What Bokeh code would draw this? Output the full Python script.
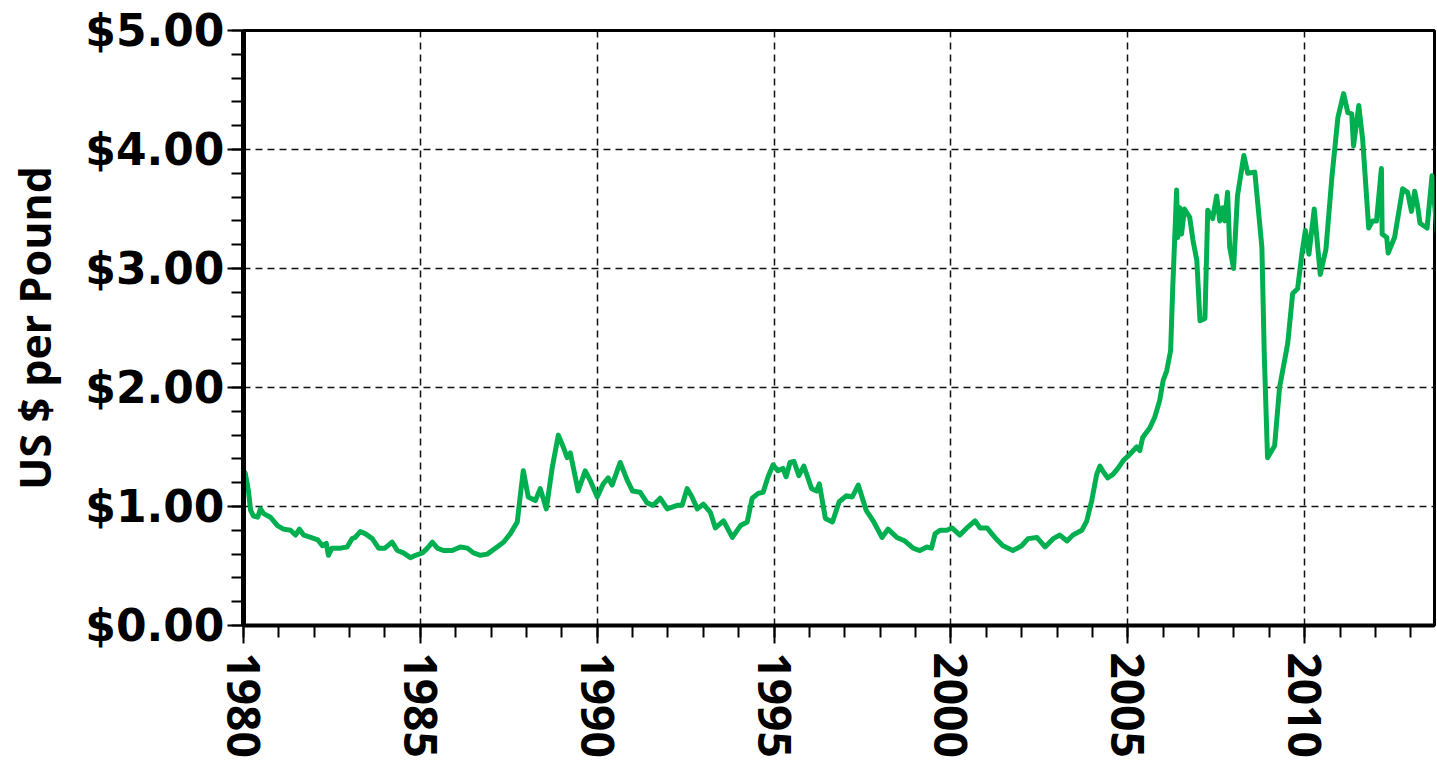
import math
from bokeh.plotting import figure
from bokeh.models import FixedTicker, PrintfTickFormatter, Range1d
from bokeh.embed import file_html
from bokeh.resources import INLINE

# Copper price, US $ per pound
years = [
    1980.00, 1980.05, 1980.14, 1980.20, 1980.28, 1980.40, 1980.48, 1980.57, 1980.76, 1980.96,
    1981.13, 1981.33, 1981.47, 1981.58, 1981.70, 1981.90, 1982.10, 1982.23, 1982.34, 1982.40,
    1982.50, 1982.74, 1982.93, 1983.07, 1983.16, 1983.30, 1983.45, 1983.64, 1983.82, 1984.00,
    1984.20, 1984.35, 1984.52, 1984.72, 1984.86, 1985.06, 1985.20, 1985.34, 1985.48, 1985.65,
    1985.90, 1986.13, 1986.33, 1986.50, 1986.70, 1986.89, 1987.17, 1987.35, 1987.54, 1987.74,
    1987.82, 1987.91, 1988.05, 1988.25, 1988.39, 1988.56, 1988.73, 1988.90, 1989.04, 1989.15,
    1989.24, 1989.46, 1989.66, 1989.80, 1990.00, 1990.17, 1990.31, 1990.42, 1990.65, 1990.85,
    1991.00, 1991.21, 1991.41, 1991.58, 1991.78, 1991.98, 1992.26, 1992.40, 1992.54, 1992.68,
    1992.83, 1993.00, 1993.20, 1993.34, 1993.57, 1993.82, 1994.05, 1994.24, 1994.38, 1994.55,
    1994.69, 1994.83, 1994.97, 1995.11, 1995.25, 1995.34, 1995.45, 1995.56, 1995.70, 1995.84,
    1996.06, 1996.20, 1996.28, 1996.45, 1996.65, 1996.84, 1997.04, 1997.21, 1997.38, 1997.60,
    1997.80, 1998.05, 1998.22, 1998.47, 1998.70, 1998.93, 1999.12, 1999.32, 1999.45, 1999.55,
    1999.69, 1999.88, 2000.03, 2000.25, 2000.45, 2000.68, 2000.82, 2001.02, 2001.24, 2001.47,
    2001.75, 2002.00, 2002.18, 2002.43, 2002.66, 2002.89, 2003.08, 2003.28, 2003.45, 2003.70,
    2003.84, 2003.98, 2004.12, 2004.21, 2004.29, 2004.43, 2004.58, 2004.72, 2004.88, 2005.03,
    2005.25, 2005.34, 2005.42, 2005.62, 2005.76, 2005.90, 2006.00, 2006.10, 2006.21, 2006.27,
    2006.38, 2006.41, 2006.47, 2006.52, 2006.60, 2006.75, 2006.84, 2006.95, 2007.04, 2007.18,
    2007.26, 2007.40, 2007.51, 2007.60, 2007.68, 2007.74, 2007.82, 2007.88, 2007.99, 2008.10,
    2008.28, 2008.39, 2008.59, 2008.79, 2008.86, 2008.95, 2009.15, 2009.29, 2009.52, 2009.66,
    2009.80, 2009.92, 2010.02, 2010.12, 2010.27, 2010.44, 2010.60, 2010.77, 2010.94, 2011.10,
    2011.22, 2011.33, 2011.38, 2011.53, 2011.64, 2011.81, 2011.92, 2012.03, 2012.17, 2012.19,
    2012.32, 2012.36, 2012.54, 2012.77, 2012.91, 2013.02, 2013.11, 2013.20, 2013.26, 2013.46,
    2013.60, 2013.75,
]
prices = [
    1.30, 1.28, 1.13, 0.97, 0.92, 0.91, 0.98, 0.94, 0.91, 0.84,
    0.81, 0.80, 0.76, 0.81, 0.76, 0.74, 0.72, 0.67, 0.69, 0.59,
    0.65, 0.65, 0.66, 0.73, 0.74, 0.79, 0.77, 0.73, 0.65, 0.65,
    0.70, 0.63, 0.61, 0.57, 0.59, 0.61, 0.65, 0.70, 0.65, 0.63,
    0.63, 0.66, 0.65, 0.61, 0.59, 0.60, 0.66, 0.70, 0.77, 0.87,
    1.08, 1.30, 1.08, 1.05, 1.15, 0.98, 1.33, 1.60, 1.50, 1.41,
    1.45, 1.13, 1.30, 1.22, 1.08, 1.19, 1.24, 1.18, 1.37, 1.22,
    1.13, 1.12, 1.03, 1.01, 1.07, 0.98, 1.01, 1.01, 1.15, 1.08,
    0.98, 1.02, 0.95, 0.82, 0.88, 0.74, 0.84, 0.87, 1.07, 1.11,
    1.12, 1.25, 1.35, 1.30, 1.32, 1.25, 1.37, 1.38, 1.26, 1.34,
    1.15, 1.13, 1.19, 0.90, 0.87, 1.04, 1.09, 1.08, 1.18, 0.97,
    0.88, 0.74, 0.81, 0.74, 0.71, 0.65, 0.63, 0.66, 0.65, 0.77,
    0.80, 0.80, 0.82, 0.76, 0.82, 0.88, 0.82, 0.82, 0.74, 0.67,
    0.63, 0.67, 0.73, 0.74, 0.66, 0.73, 0.76, 0.71, 0.76, 0.80,
    0.88, 1.05, 1.27, 1.34, 1.30, 1.24, 1.27, 1.32, 1.39, 1.43,
    1.50, 1.47, 1.58, 1.66, 1.75, 1.89, 2.06, 2.14, 2.31, 2.84,
    3.66, 3.26, 3.51, 3.29, 3.50, 3.43, 3.24, 3.07, 2.56, 2.58,
    3.49, 3.42, 3.61, 3.40, 3.51, 3.40, 3.64, 3.18, 3.00, 3.61,
    3.95, 3.80, 3.81, 3.18, 2.25, 1.41, 1.51, 2.00, 2.37, 2.79,
    2.83, 3.12, 3.32, 3.12, 3.50, 2.95, 3.16, 3.77, 4.27, 4.47,
    4.31, 4.30, 4.03, 4.37, 4.08, 3.34, 3.40, 3.40, 3.84, 3.29,
    3.26, 3.13, 3.26, 3.67, 3.64, 3.48, 3.65, 3.51, 3.38, 3.34,
    3.78, 3.28,
]

x_major = [1980, 1985, 1990, 1995, 2000, 2005, 2010]
x_minor = list(range(1980, 2014))
y_major = [0, 1, 2, 3, 4, 5]
y_minor = [round(0.2 * i, 1) for i in range(26)]
y_title = "US $ per Pound"

p = figure(
    frame_width=1191, frame_height=595,
    output_backend="svg", toolbar_location=None,
    x_range=Range1d(1980, 2013.67), y_range=Range1d(0, 5),
    min_border_left=243, min_border_top=30, min_border_right=2, min_border_bottom=0,
)
p.background_fill_color = "white"
p.border_fill_color = "white"
p.outline_line_color = "black"
p.outline_line_width = 3

p.line(years, prices, line_color="#00B050", line_width=5, line_join="round")

# x axis
xa = p.xaxis[0]
xa.ticker = FixedTicker(ticks=x_major, minor_ticks=x_minor)
xa.major_label_orientation = -math.pi / 2
xa.major_label_text_font = "Open Sans"
xa.major_label_text_font_style = "bold"
xa.major_label_text_font_size = "46px"
xa.major_label_text_color = "black"
xa.major_label_standoff = 9
xa.axis_line_width = 4
xa.axis_line_color = "black"
xa.major_tick_out = 18
xa.major_tick_in = 0
xa.minor_tick_out = 12
xa.minor_tick_in = 0
xa.major_tick_line_width = 2
xa.minor_tick_line_width = 2
xa.major_tick_line_color = "black"
xa.minor_tick_line_color = "black"

# y axis
ya = p.yaxis[0]
ya.ticker = FixedTicker(ticks=y_major, minor_ticks=y_minor)
ya.formatter = PrintfTickFormatter(format="$%.2f")
ya.major_label_text_font = "DejaVu Sans"
ya.major_label_text_font_style = "bold"
ya.major_label_text_font_size = "44px"
ya.major_label_text_color = "black"
ya.major_label_standoff = 3
ya.axis_line_width = 5
ya.axis_line_color = "black"
ya.major_tick_out = 16
ya.major_tick_in = 0
ya.minor_tick_out = 12
ya.minor_tick_in = 0
ya.major_tick_line_width = 2
ya.minor_tick_line_width = 2
ya.major_tick_line_color = "black"
ya.minor_tick_line_color = "black"
ya.axis_label = y_title
ya.axis_label_text_font = "Open Sans"
ya.axis_label_text_font_style = "bold"
ya.axis_label_text_font_size = "43px"
ya.axis_label_text_color = "black"
ya.axis_label_standoff = 18

# grid
p.xgrid.ticker = FixedTicker(ticks=x_major)
p.ygrid.ticker = FixedTicker(ticks=y_major)
for g in (p.xgrid[0], p.ygrid[0]):
    g.grid_line_color = "#111111"
    g.grid_line_width = 1.5
    g.grid_line_dash = "7 5"

open("out.html", "w").write(file_html(p, INLINE))
